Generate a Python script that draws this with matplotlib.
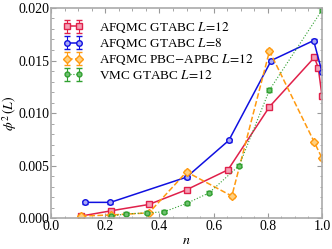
import matplotlib.pyplot as plt
import numpy as np
from matplotlib.legend_handler import HandlerErrorbar
from matplotlib.container import ErrorbarContainer

plt.rcParams['font.family'] = 'Liberation Serif'
plt.rcParams['mathtext.fontset'] = 'stix'

# AFQMC GTABC L=12
n_red = [0.111, 0.222, 0.361, 0.5, 0.653, 0.806, 0.972, 0.986, 1.0]
phi_red = [0.0002, 0.0007, 0.0013, 0.0027, 0.0046, 0.0106, 0.0153, 0.0143, 0.0116]
# AFQMC GTABC L=8
n_blue = [0.125, 0.219, 0.5, 0.656, 0.8125, 0.969, 1.0]
phi_blue = [0.0015, 0.0015, 0.0039, 0.0074, 0.0150, 0.0169, 0.0139]
# AFQMC PBC-APBC L=12
n_orange = [0.111, 0.222, 0.361, 0.5, 0.667, 0.806, 0.972, 1.0]
phi_orange = [0.0002, 0.0003, 0.0005, 0.0044, 0.0021, 0.0159, 0.0072, 0.0057]
# VMC GTABC L=12
n_green = [0.222, 0.278, 0.354, 0.417, 0.5, 0.583, 0.694, 0.806, 1.0]
phi_green = [0.0002, 0.0004, 0.0005, 0.0006, 0.0014, 0.0024, 0.0050, 0.0122, 0.0198]

err = 0.00015

fig = plt.figure(figsize=(3.32, 2.49), dpi=100)
ax = fig.add_axes([0.154, 0.124, 0.816, 0.844])

ax.errorbar(n_red, phi_red, yerr=err, color='#e0204a', marker='s', ms=4,
            mfc='#f5a0b5', mew=1, lw=1.1, capsize=2, elinewidth=0.8,
            label=r'AFQMC GTABC $L\!=\!12$')
ax.errorbar(n_blue, phi_blue, yerr=err, color='#1010e0', marker='o', ms=4,
            mfc='#a8a8f5', mew=1, lw=1.1, capsize=2, elinewidth=0.8,
            label=r'AFQMC GTABC $L\!=\!8$')
ax.errorbar(n_orange, phi_orange, yerr=err, color='#ff9a10', marker='D', ms=4,
            mfc='#ffd080', mew=1, lw=1.1, ls='--', capsize=2, elinewidth=0.8,
            label=r'AFQMC PBC$-$APBC $L\!=\!12$')
ax.errorbar(n_green, phi_green, yerr=err, color='#30a030', marker='o', ms=3.5,
            mfc='#70c070', mew=1, lw=0.8, ls=':', capsize=2, elinewidth=0.8,
            label=r'VMC GTABC $L\!=\!12$')

ax.set_xlim(0, 1.0)
ax.set_ylim(0, 0.020)
ax.set_xticks([0.0, 0.2, 0.4, 0.6, 0.8, 1.0])
ax.set_yticks([0.0, 0.005, 0.010, 0.015, 0.020])
ax.set_xticklabels(['0.0', '0.2', '0.4', '0.6', '0.8', '1.0'])
ax.set_yticklabels(['0.000', '0.005', '0.010', '0.015', '0.020'])
ax.set_xticks(np.arange(0, 1.0001, 0.05), minor=True)
ax.set_yticks(np.arange(0, 0.02001, 0.001), minor=True)
ax.tick_params(which='both', direction='in', top=True, right=True,
               labelsize=10, color='#999999', pad=1)
ax.tick_params(which='major', length=3.5)
ax.tick_params(which='minor', length=1.8)
for s in ax.spines.values():
    s.set_color('#aaaaaa')
    s.set_linewidth(1.2)

ax.set_xlabel(r'$n$', fontsize=10, labelpad=1)
ax.set_ylabel(r'$\phi^2\,(L)$', fontsize=10)
ax.yaxis.set_label_coords(-0.12, 0.5)

ax.legend(loc='upper left', fontsize=9.5, frameon=False,
          handler_map={ErrorbarContainer: HandlerErrorbar(numpoints=2)},
          handlelength=1.5, borderaxespad=0.5, labelspacing=0.1,
          handletextpad=1.2)

fig.savefig('out.png', dpi=100)
